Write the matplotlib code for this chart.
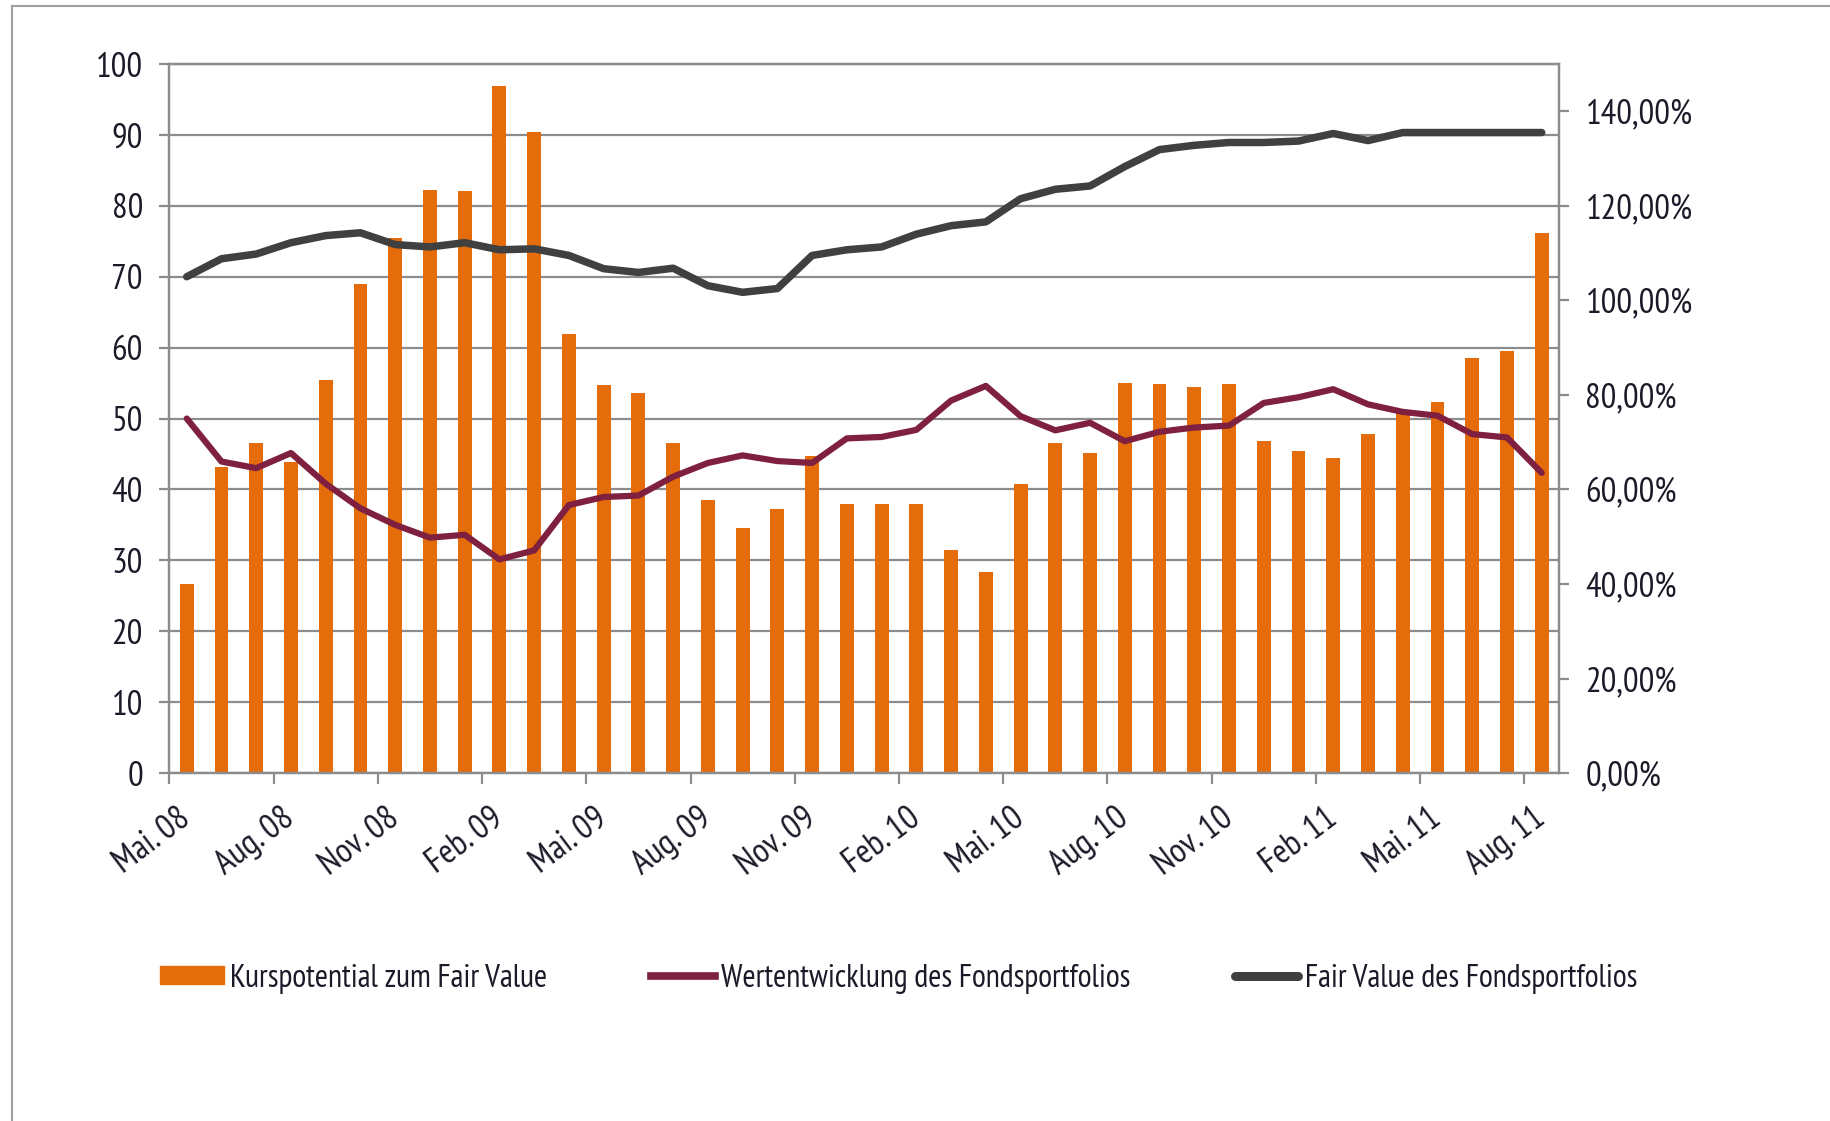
import numpy as np
import matplotlib
matplotlib.use("Agg")
import matplotlib.pyplot as plt
from matplotlib.lines import Line2D
from matplotlib.patches import Patch

plt.rcParams['font.family'] = ['PT Sans Narrow', 'Roboto Condensed', 'DejaVu Sans']

# --- data (monthly, Mai 08 .. Aug 11) ---
months = ["Mai. 08", "Jun. 08", "Jul. 08", "Aug. 08", "Sep. 08", "Okt. 08", "Nov. 08", "Dez. 08",
          "Jan. 09", "Feb. 09", "Mrz. 09", "Apr. 09", "Mai. 09", "Jun. 09", "Jul. 09", "Aug. 09",
          "Sep. 09", "Okt. 09", "Nov. 09", "Dez. 09", "Jan. 10", "Feb. 10", "Mrz. 10", "Apr. 10",
          "Mai. 10", "Jun. 10", "Jul. 10", "Aug. 10", "Sep. 10", "Okt. 10", "Nov. 10", "Dez. 10",
          "Jan. 11", "Feb. 11", "Mrz. 11", "Apr. 11", "Mai. 11", "Jun. 11", "Jul. 11", "Aug. 11"]

kurspotential = [26.7, 43.1, 46.5, 43.9, 55.4, 69.0, 75.4, 82.2, 82.1, 96.9,
                 90.4, 61.9, 54.7, 53.6, 46.5, 38.5, 34.6, 37.2, 44.7, 37.9,
                 37.9, 37.9, 31.5, 28.3, 40.7, 46.5, 45.2, 55.0, 54.9, 54.4,
                 54.8, 46.9, 45.4, 44.4, 47.8, 50.9, 52.3, 58.5, 59.5, 76.1]

# percent values (right axis)
wertentwicklung = [75.0, 65.9, 64.5, 67.7, 61.2, 56.0, 52.5, 49.8, 50.4, 45.2,
                   47.1, 56.7, 58.4, 58.7, 62.7, 65.6, 67.2, 66.0, 65.6, 70.8,
                   71.1, 72.6, 78.8, 81.9, 75.5, 72.5, 74.1, 70.2, 72.2, 73.1,
                   73.5, 78.3, 79.5, 81.2, 78.0, 76.4, 75.6, 71.7, 71.0, 63.5]

fair_value = [105.0, 108.8, 109.8, 112.2, 113.7, 114.3, 111.8, 111.3, 112.2, 110.7,
              110.9, 109.5, 106.7, 105.9, 106.8, 103.1, 101.7, 102.5, 109.5, 110.7,
              111.3, 114.0, 115.8, 116.6, 121.5, 123.5, 124.2, 128.3, 131.9, 132.8,
              133.4, 133.4, 133.7, 135.3, 133.8, 135.5, 135.5, 135.5, 135.5, 135.5]

label_every = 3
legend_labels = ["Kurspotential zum Fair Value", "Wertentwicklung des Fondsportfolios",
                 "Fair Value des Fondsportfolios"]

orange = '#E46C0A'
maroon = '#7F2040'
dark = '#404040'
grid_c = '#8C8C8C'
text_c = '#1A1A28'

fig = plt.figure(figsize=(18.31, 11.21), dpi=100)
ax = fig.add_axes([0.0925, 0.3104, 0.759, 0.6325])
ax2 = ax.twinx()

x = np.arange(len(months))
ax.bar(x, kurspotential, width=0.4, color=orange, zorder=2)
ax.set_xlim(-0.5, len(months) - 0.5)
ax.set_ylim(0, 100)
ax.set_yticks(np.arange(0, 101, 10))
ax.yaxis.grid(True, color=grid_c, linewidth=1.6, zorder=0)
ax.set_axisbelow(True)

ax2.plot(x, fair_value, color=dark, linewidth=5.4, solid_capstyle='round', zorder=3)
ax2.plot(x, wertentwicklung, color=maroon, linewidth=4.5, solid_capstyle='round', zorder=3)
ax2.set_ylim(0, 150)
ax2.set_yticks(np.arange(0, 141, 20))
ax2.set_yticklabels([f"{v},00%" for v in range(0, 141, 20)])

# x axis: labels at every third month, tick marks between categories
ax.set_xticks(x[::label_every])
ax.set_xticklabels(months[::label_every], rotation=37, ha='right', va='center',
                   rotation_mode='anchor')
ax.set_xticks(np.arange(-0.5, len(months), label_every), minor=True)
ax.tick_params(axis='x', which='major', length=0, pad=30, labelsize=25, labelcolor=text_c)
ax.tick_params(axis='x', which='minor', length=8, width=1.6, color=grid_c, direction='out')
ax.tick_params(axis='y', length=7, width=1.6, color=grid_c, pad=12, labelsize=25, labelcolor=text_c)
ax2.tick_params(axis='y', length=7, width=1.6, color=grid_c, pad=12, labelsize=25, labelcolor=text_c)

for a in (ax, ax2):
    for s in a.spines.values():
        s.set_color(grid_c)
        s.set_linewidth(1.6)

handles = [Patch(facecolor=orange, edgecolor=orange),
           Line2D([], [], color=maroon, linewidth=5.5),
           Line2D([], [], color=dark, linewidth=6.5, solid_capstyle='round')]
fig.legend(handles, legend_labels, loc='center left', bbox_to_anchor=(0.0716, 0.127),
           ncol=3, frameon=False, fontsize=23, handlelength=2.0, handleheight=0.5,
           handletextpad=0.2, columnspacing=3.25, labelcolor=text_c)

# outer chart frame
fig.add_artist(Line2D([12 / 1831, 1.0], [1 - 6 / 1121, 1 - 6 / 1121], color='#A0A0A0', linewidth=1.5))
fig.add_artist(Line2D([12 / 1831, 12 / 1831], [0.0, 1 - 6 / 1121], color='#A0A0A0', linewidth=1.5))

fig.savefig('out.png', dpi=100)
